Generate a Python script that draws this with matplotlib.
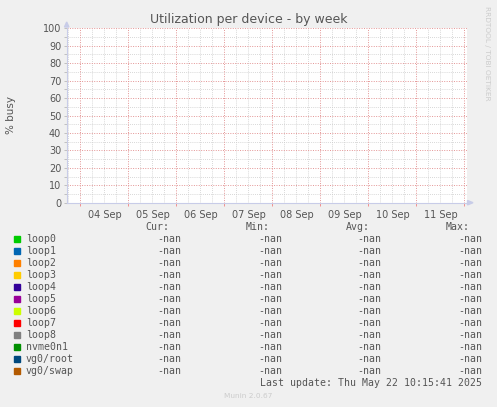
import numpy as np
import matplotlib
matplotlib.use("Agg")
import matplotlib.pyplot as plt
from datetime import datetime, timedelta

# series and legend values (all nan in the source graph)
devices = ["loop0", "loop1", "loop2", "loop3", "loop4", "loop5", "loop6",
           "loop7", "loop8", "nvme0n1", "vg0/root", "vg0/swap"]
colors = ["#00CC00", "#0066B3", "#FF8000", "#FFCC00", "#330099", "#990099",
          "#CCFF00", "#FF0000", "#808080", "#008F00", "#00487D", "#B35A00"]
cur = ["-nan"] * len(devices)
mins = ["-nan"] * len(devices)
avg = ["-nan"] * len(devices)
maxs = ["-nan"] * len(devices)

t_start = datetime(2024, 9, 3, 17, 12)
t_end = datetime(2024, 9, 12, 1, 30)
day_labels = ["04 Sep", "05 Sep", "06 Sep", "07 Sep", "08 Sep", "09 Sep", "10 Sep", "11 Sep"]
first_day = datetime(2024, 9, 4)
yticks = list(range(0, 101, 10))

W, H = 497, 407
fig = plt.figure(figsize=(W / 100, H / 100), dpi=100, facecolor="#F0F0F0")

def px(x0, y0, x1, y1):
    return [x0 / W, 1 - y1 / H, (x1 - x0) / W, (y1 - y0) / H]

ax = fig.add_axes(px(66.7, 28.3, 467.3, 202.7))
ax.set_facecolor("white")

times = [t_start + timedelta(hours=h) for h in range(0, 201, 6)]
for name, c in zip(devices, colors):
    ax.plot(times, np.full(len(times), np.nan), color=c, lw=1)

ax.set_xlim(t_start, t_end)
ax.set_ylim(0, 100)

# grid: gray every 6 h / 5 %, red every day / 10 %
gray = "#CBCBCB"
red = "#E39494"
midnights = []
t = first_day - timedelta(days=1)
while t <= t_end:
    for h in (6, 12, 18):
        ax.axvline(t + timedelta(hours=h), color=gray, lw=0.6, ls=(0, (1, 1.5)), zorder=0)
    if t >= t_start:
        midnights.append(t)
    ax.axvline(t, color=red, lw=0.7, ls=(0, (1, 1.5)), zorder=0.5)
    t += timedelta(days=1)
for v in range(5, 100, 10):
    ax.axhline(v, color=gray, lw=0.6, ls=(0, (1, 1.5)), zorder=0)
for v in yticks[1:]:
    ax.axhline(v, color=red, lw=0.7, ls=(0, (1, 1.5)), zorder=0.5)

noon = [first_day + timedelta(days=i, hours=12, minutes=30) for i in range(len(day_labels))]
ax.set_xticks(midnights, [""] * len(midnights))
ax.set_xticks(noon, day_labels, minor=True)
ax.tick_params(axis="x", which="major", length=2.5, width=0.6, color="#F08080", direction="out")
ax.tick_params(axis="x", which="minor", length=0, pad=5, labelsize=7, labelcolor="#555555")
ax.set_yticks(yticks)
ax.set_yticks(range(5, 100, 10), minor=True)
ax.tick_params(axis="y", which="both", length=2, width=0.6, color="#B8B8B8", pad=2,
               labelsize=7, labelcolor="#555555")

for s in ("top", "right"):
    ax.spines[s].set_visible(False)
for s in ("left", "bottom"):
    ax.spines[s].set_color("#C8CCE8")
    ax.spines[s].set_linewidth(0.8)

# axis arrows
fig.patches.append(plt.Polygon([[64.5 / W, 1 - 27 / H], [68.9 / W, 1 - 27 / H], [66.7 / W, 1 - 22 / H]],
                               closed=True, transform=fig.transFigure, color="#C8CCE8"))
fig.patches.append(plt.Polygon([[467.5 / W, 1 - 200.5 / H], [467.5 / W, 1 - 204.9 / H], [473 / W, 1 - 202.7 / H]],
                               closed=True, transform=fig.transFigure, color="#C8CCE8"))

fig.text(248.5 / W, 1 - 19 / H, "Utilization per device - by week", ha="center", va="center",
         fontsize=9, color="#555555")
fig.text(11 / W, 1 - 115 / H, "% busy", ha="center", va="center", rotation=90,
         fontsize=7.5, color="#555555")
fig.text(487 / W, 1 - 53 / H, "RRDTOOL / TOBI OETIKER", ha="center", va="center", rotation=270,
         fontsize=5.3, color="#CCCCCC")

# legend
mono = "DejaVu Sans Mono"
fs = 7.1
tc = "#555555"
cols_x = [181, 282, 381, 482]
heads = ["Cur:", "Min:", "Avg:", "Max:"]
head_x = [169, 270, 369.5, 470]
for hx, hd in zip(head_x, heads):
    fig.text(hx / W, 1 - 227.3 / H, hd, ha="right", va="center", family=mono, fontsize=fs, color=tc)
for i, (name, c) in enumerate(zip(devices, colors)):
    y = 239.3 + 12 * i
    fig.patches.append(plt.Rectangle((14 / W, 1 - (y + 3) / H), 6 / W, 6 / H,
                                     transform=fig.transFigure, color=c))
    fig.text(26 / W, 1 - y / H, name, ha="left", va="center", family=mono, fontsize=fs, color=tc)
    for cx, val in zip(cols_x, (cur[i], mins[i], avg[i], maxs[i])):
        fig.text(cx / W, 1 - y / H, val, ha="right", va="center", family=mono, fontsize=fs, color=tc)

fig.text(482 / W, 1 - 383 / H, "Last update: Thu May 22 10:15:41 2025", ha="right", va="center",
         family=mono, fontsize=fs, color=tc)
fig.text(248 / W, 1 - 396 / H, "Munin 2.0.67", ha="center", va="center", fontsize=5.3, color="#CCCCCC")

fig.savefig("out.png", dpi=100, facecolor=fig.get_facecolor())
